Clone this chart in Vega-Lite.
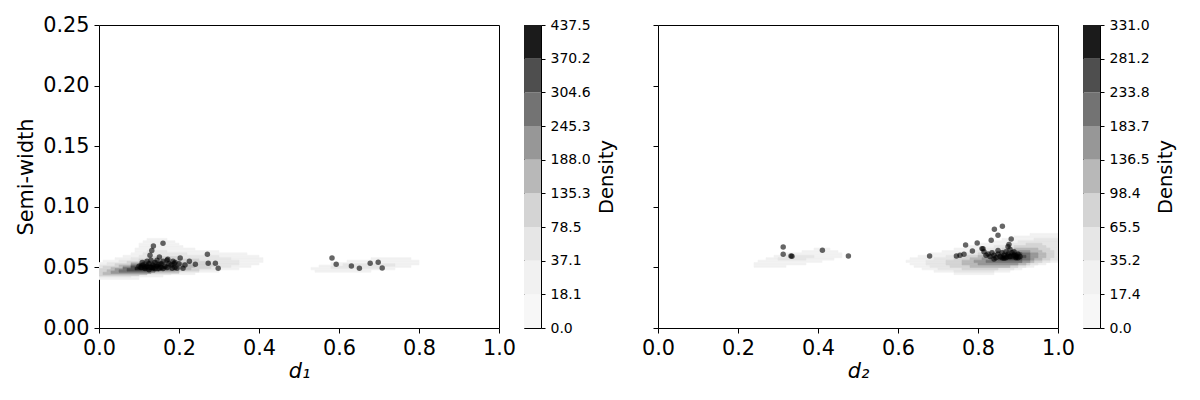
{
  "$schema": "https://vega.github.io/schema/vega-lite/v6.json",
  "padding": {"left": 15, "top": 13, "right": 5, "bottom": 5},
  "background": "white",
  "config": {
    "font": "DejaVu Sans",
    "view": {"stroke": "black", "strokeWidth": 1},
    "axis": {"grid": false, "domain": false, "tickColor": "black", "labelColor": "black", "titleColor": "black", "titleFontWeight": "normal", "tickSize": 5, "labelPadding": 5, "labelFlush": false, "labelOverlap": false}
  },
  "datasets": {
    "contours": [
      {"p":1,"l":1,"y":0.040,"y2":0.042,"x":0.00,"x2":0.10},
      {"p":1,"l":1,"y":0.042,"y2":0.044,"x":0.00,"x2":0.16},
      {"p":1,"l":1,"y":0.044,"y2":0.046,"x":0.00,"x2":0.24},
      {"p":1,"l":1,"y":0.046,"y2":0.048,"x":0.00,"x2":0.30},
      {"p":1,"l":1,"y":0.048,"y2":0.050,"x":0.00,"x2":0.35},
      {"p":1,"l":1,"y":0.050,"y2":0.052,"x":0.00,"x2":0.38},
      {"p":1,"l":1,"y":0.052,"y2":0.054,"x":0.00,"x2":0.40},
      {"p":1,"l":1,"y":0.054,"y2":0.056,"x":0.01,"x2":0.41},
      {"p":1,"l":1,"y":0.056,"y2":0.058,"x":0.04,"x2":0.41},
      {"p":1,"l":1,"y":0.058,"y2":0.060,"x":0.06,"x2":0.40},
      {"p":1,"l":1,"y":0.060,"y2":0.062,"x":0.08,"x2":0.37},
      {"p":1,"l":1,"y":0.062,"y2":0.064,"x":0.09,"x2":0.30},
      {"p":1,"l":1,"y":0.064,"y2":0.066,"x":0.09,"x2":0.24},
      {"p":1,"l":1,"y":0.066,"y2":0.068,"x":0.10,"x2":0.21},
      {"p":1,"l":1,"y":0.068,"y2":0.070,"x":0.10,"x2":0.20},
      {"p":1,"l":1,"y":0.070,"y2":0.072,"x":0.11,"x2":0.19},
      {"p":1,"l":1,"y":0.072,"y2":0.074,"x":0.12,"x2":0.17},
      {"p":1,"l":1,"y":0.046,"y2":0.048,"x":0.54,"x2":0.68},
      {"p":1,"l":1,"y":0.048,"y2":0.050,"x":0.53,"x2":0.74},
      {"p":1,"l":1,"y":0.050,"y2":0.052,"x":0.55,"x2":0.78},
      {"p":1,"l":1,"y":0.052,"y2":0.054,"x":0.58,"x2":0.80},
      {"p":1,"l":1,"y":0.054,"y2":0.056,"x":0.62,"x2":0.80},
      {"p":1,"l":1,"y":0.056,"y2":0.058,"x":0.68,"x2":0.78},
      {"p":1,"l":2,"y":0.042,"y2":0.044,"x":0.00,"x2":0.08},
      {"p":1,"l":2,"y":0.044,"y2":0.046,"x":0.00,"x2":0.18},
      {"p":1,"l":2,"y":0.046,"y2":0.048,"x":0.00,"x2":0.25},
      {"p":1,"l":2,"y":0.048,"y2":0.050,"x":0.00,"x2":0.30},
      {"p":1,"l":2,"y":0.050,"y2":0.052,"x":0.00,"x2":0.33},
      {"p":1,"l":2,"y":0.052,"y2":0.054,"x":0.02,"x2":0.35},
      {"p":1,"l":2,"y":0.054,"y2":0.056,"x":0.05,"x2":0.35},
      {"p":1,"l":2,"y":0.056,"y2":0.058,"x":0.08,"x2":0.33},
      {"p":1,"l":2,"y":0.058,"y2":0.060,"x":0.10,"x2":0.30},
      {"p":1,"l":2,"y":0.060,"y2":0.062,"x":0.11,"x2":0.22},
      {"p":1,"l":2,"y":0.062,"y2":0.064,"x":0.12,"x2":0.17},
      {"p":1,"l":2,"y":0.049,"y2":0.051,"x":0.58,"x2":0.70},
      {"p":1,"l":2,"y":0.051,"y2":0.053,"x":0.61,"x2":0.74},
      {"p":1,"l":3,"y":0.043,"y2":0.045,"x":0.00,"x2":0.10},
      {"p":1,"l":3,"y":0.045,"y2":0.047,"x":0.00,"x2":0.20},
      {"p":1,"l":3,"y":0.047,"y2":0.049,"x":0.00,"x2":0.25},
      {"p":1,"l":3,"y":0.049,"y2":0.051,"x":0.01,"x2":0.28},
      {"p":1,"l":3,"y":0.051,"y2":0.053,"x":0.04,"x2":0.29},
      {"p":1,"l":3,"y":0.053,"y2":0.055,"x":0.07,"x2":0.28},
      {"p":1,"l":3,"y":0.055,"y2":0.057,"x":0.10,"x2":0.25},
      {"p":1,"l":3,"y":0.057,"y2":0.059,"x":0.12,"x2":0.20},
      {"p":1,"l":4,"y":0.044,"y2":0.046,"x":0.01,"x2":0.12},
      {"p":1,"l":4,"y":0.046,"y2":0.048,"x":0.02,"x2":0.20},
      {"p":1,"l":4,"y":0.048,"y2":0.050,"x":0.03,"x2":0.23},
      {"p":1,"l":4,"y":0.050,"y2":0.052,"x":0.05,"x2":0.24},
      {"p":1,"l":4,"y":0.052,"y2":0.054,"x":0.08,"x2":0.23},
      {"p":1,"l":4,"y":0.054,"y2":0.056,"x":0.11,"x2":0.20},
      {"p":1,"l":5,"y":0.045,"y2":0.047,"x":0.03,"x2":0.13},
      {"p":1,"l":5,"y":0.047,"y2":0.049,"x":0.04,"x2":0.19},
      {"p":1,"l":5,"y":0.049,"y2":0.051,"x":0.06,"x2":0.21},
      {"p":1,"l":5,"y":0.051,"y2":0.053,"x":0.08,"x2":0.21},
      {"p":1,"l":5,"y":0.053,"y2":0.055,"x":0.11,"x2":0.18},
      {"p":1,"l":6,"y":0.046,"y2":0.048,"x":0.05,"x2":0.14},
      {"p":1,"l":6,"y":0.048,"y2":0.050,"x":0.06,"x2":0.18},
      {"p":1,"l":6,"y":0.050,"y2":0.052,"x":0.08,"x2":0.19},
      {"p":1,"l":6,"y":0.052,"y2":0.054,"x":0.11,"x2":0.17},
      {"p":1,"l":7,"y":0.047,"y2":0.049,"x":0.07,"x2":0.15},
      {"p":1,"l":7,"y":0.049,"y2":0.051,"x":0.08,"x2":0.17},
      {"p":1,"l":7,"y":0.051,"y2":0.053,"x":0.10,"x2":0.16},
      {"p":1,"l":8,"y":0.048,"y2":0.050,"x":0.09,"x2":0.14},
      {"p":1,"l":8,"y":0.050,"y2":0.052,"x":0.10,"x2":0.15},

      {"p":2,"l":1,"y":0.050,"y2":0.052,"x":0.24,"x2":0.32},
      {"p":2,"l":1,"y":0.052,"y2":0.054,"x":0.24,"x2":0.37},
      {"p":2,"l":1,"y":0.054,"y2":0.056,"x":0.25,"x2":0.41},
      {"p":2,"l":1,"y":0.056,"y2":0.058,"x":0.27,"x2":0.44},
      {"p":2,"l":1,"y":0.058,"y2":0.060,"x":0.29,"x2":0.46},
      {"p":2,"l":1,"y":0.060,"y2":0.062,"x":0.32,"x2":0.46},
      {"p":2,"l":1,"y":0.062,"y2":0.064,"x":0.36,"x2":0.45},
      {"p":2,"l":1,"y":0.064,"y2":0.066,"x":0.39,"x2":0.43},
      {"p":2,"l":1,"y":0.044,"y2":0.046,"x":0.74,"x2":0.84},
      {"p":2,"l":1,"y":0.046,"y2":0.048,"x":0.69,"x2":0.88},
      {"p":2,"l":1,"y":0.048,"y2":0.050,"x":0.66,"x2":0.91},
      {"p":2,"l":1,"y":0.050,"y2":0.052,"x":0.64,"x2":0.94},
      {"p":2,"l":1,"y":0.052,"y2":0.054,"x":0.63,"x2":0.97},
      {"p":2,"l":1,"y":0.054,"y2":0.056,"x":0.62,"x2":1.0},
      {"p":2,"l":1,"y":0.056,"y2":0.058,"x":0.63,"x2":1.0},
      {"p":2,"l":1,"y":0.058,"y2":0.060,"x":0.65,"x2":1.0},
      {"p":2,"l":1,"y":0.060,"y2":0.062,"x":0.68,"x2":1.0},
      {"p":2,"l":1,"y":0.062,"y2":0.064,"x":0.71,"x2":1.0},
      {"p":2,"l":1,"y":0.064,"y2":0.066,"x":0.74,"x2":1.0},
      {"p":2,"l":1,"y":0.066,"y2":0.068,"x":0.77,"x2":1.0},
      {"p":2,"l":1,"y":0.068,"y2":0.070,"x":0.80,"x2":1.0},
      {"p":2,"l":1,"y":0.070,"y2":0.072,"x":0.83,"x2":1.0},
      {"p":2,"l":1,"y":0.072,"y2":0.074,"x":0.86,"x2":1.0},
      {"p":2,"l":1,"y":0.074,"y2":0.076,"x":0.89,"x2":1.0},
      {"p":2,"l":1,"y":0.076,"y2":0.078,"x":0.93,"x2":1.0},
      {"p":2,"l":2,"y":0.056,"y2":0.058,"x":0.30,"x2":0.37},
      {"p":2,"l":2,"y":0.058,"y2":0.060,"x":0.32,"x2":0.39},
      {"p":2,"l":2,"y":0.046,"y2":0.048,"x":0.74,"x2":0.84},
      {"p":2,"l":2,"y":0.048,"y2":0.050,"x":0.70,"x2":0.89},
      {"p":2,"l":2,"y":0.050,"y2":0.052,"x":0.68,"x2":0.92},
      {"p":2,"l":2,"y":0.052,"y2":0.054,"x":0.67,"x2":0.95},
      {"p":2,"l":2,"y":0.054,"y2":0.056,"x":0.67,"x2":0.98},
      {"p":2,"l":2,"y":0.056,"y2":0.058,"x":0.69,"x2":1.0},
      {"p":2,"l":2,"y":0.058,"y2":0.060,"x":0.72,"x2":1.0},
      {"p":2,"l":2,"y":0.060,"y2":0.062,"x":0.75,"x2":1.0},
      {"p":2,"l":2,"y":0.062,"y2":0.064,"x":0.78,"x2":1.0},
      {"p":2,"l":2,"y":0.064,"y2":0.066,"x":0.81,"x2":1.0},
      {"p":2,"l":2,"y":0.066,"y2":0.068,"x":0.84,"x2":1.0},
      {"p":2,"l":2,"y":0.068,"y2":0.070,"x":0.87,"x2":1.0},
      {"p":2,"l":2,"y":0.070,"y2":0.072,"x":0.90,"x2":1.0},
      {"p":2,"l":2,"y":0.072,"y2":0.074,"x":0.94,"x2":1.0},
      {"p":2,"l":3,"y":0.048,"y2":0.050,"x":0.76,"x2":0.85},
      {"p":2,"l":3,"y":0.050,"y2":0.052,"x":0.73,"x2":0.90},
      {"p":2,"l":3,"y":0.052,"y2":0.054,"x":0.72,"x2":0.93},
      {"p":2,"l":3,"y":0.054,"y2":0.056,"x":0.72,"x2":0.96},
      {"p":2,"l":3,"y":0.056,"y2":0.058,"x":0.74,"x2":0.98},
      {"p":2,"l":3,"y":0.058,"y2":0.060,"x":0.77,"x2":0.99},
      {"p":2,"l":3,"y":0.060,"y2":0.062,"x":0.80,"x2":0.99},
      {"p":2,"l":3,"y":0.062,"y2":0.064,"x":0.83,"x2":0.99},
      {"p":2,"l":3,"y":0.064,"y2":0.066,"x":0.86,"x2":0.98},
      {"p":2,"l":3,"y":0.066,"y2":0.068,"x":0.89,"x2":0.97},
      {"p":2,"l":3,"y":0.068,"y2":0.070,"x":0.92,"x2":0.96},
      {"p":2,"l":4,"y":0.050,"y2":0.052,"x":0.78,"x2":0.88},
      {"p":2,"l":4,"y":0.052,"y2":0.054,"x":0.76,"x2":0.92},
      {"p":2,"l":4,"y":0.054,"y2":0.056,"x":0.76,"x2":0.94},
      {"p":2,"l":4,"y":0.056,"y2":0.058,"x":0.78,"x2":0.96},
      {"p":2,"l":4,"y":0.058,"y2":0.060,"x":0.80,"x2":0.97},
      {"p":2,"l":4,"y":0.060,"y2":0.062,"x":0.83,"x2":0.97},
      {"p":2,"l":4,"y":0.062,"y2":0.064,"x":0.86,"x2":0.96},
      {"p":2,"l":4,"y":0.064,"y2":0.066,"x":0.89,"x2":0.95},
      {"p":2,"l":5,"y":0.052,"y2":0.054,"x":0.80,"x2":0.90},
      {"p":2,"l":5,"y":0.054,"y2":0.056,"x":0.79,"x2":0.93},
      {"p":2,"l":5,"y":0.056,"y2":0.058,"x":0.81,"x2":0.94},
      {"p":2,"l":5,"y":0.058,"y2":0.060,"x":0.83,"x2":0.95},
      {"p":2,"l":5,"y":0.060,"y2":0.062,"x":0.86,"x2":0.95},
      {"p":2,"l":5,"y":0.062,"y2":0.064,"x":0.89,"x2":0.93},
      {"p":2,"l":6,"y":0.054,"y2":0.056,"x":0.82,"x2":0.91},
      {"p":2,"l":6,"y":0.056,"y2":0.058,"x":0.83,"x2":0.93},
      {"p":2,"l":6,"y":0.058,"y2":0.060,"x":0.85,"x2":0.93},
      {"p":2,"l":6,"y":0.060,"y2":0.062,"x":0.87,"x2":0.93},
      {"p":2,"l":7,"y":0.056,"y2":0.058,"x":0.85,"x2":0.91},
      {"p":2,"l":7,"y":0.058,"y2":0.060,"x":0.86,"x2":0.92},
      {"p":2,"l":7,"y":0.060,"y2":0.062,"x":0.88,"x2":0.91},
      {"p":2,"l":8,"y":0.057,"y2":0.059,"x":0.86,"x2":0.90},
      {"p":2,"l":8,"y":0.059,"y2":0.061,"x":0.87,"x2":0.90}
    ],
    "points": [
      {"p":1,"d":0.136,"w":0.0677},{"p":1,"d":0.160,"w":0.0700},{"p":1,"d":0.132,"w":0.0640},{"p":1,"d":0.1275,"w":0.0600},
      {"p":1,"d":0.151,"w":0.0586},{"p":1,"d":0.172,"w":0.0567},{"p":1,"d":0.203,"w":0.0578},{"p":1,"d":0.271,"w":0.0608},
      {"p":1,"d":0.226,"w":0.0550},{"p":1,"d":0.241,"w":0.0526},{"p":1,"d":0.273,"w":0.0534},{"p":1,"d":0.291,"w":0.0534},
      {"p":1,"d":0.298,"w":0.0493},{"p":1,"d":0.210,"w":0.0493},{"p":1,"d":0.195,"w":0.0493},{"p":1,"d":0.183,"w":0.0493},
      {"p":1,"d":0.188,"w":0.0530},
      {"p":1,"d":0.5825,"w":0.0578},{"p":1,"d":0.593,"w":0.0526},{"p":1,"d":0.631,"w":0.0512},{"p":1,"d":0.651,"w":0.0493},
      {"p":1,"d":0.678,"w":0.0534},{"p":1,"d":0.698,"w":0.0542},{"p":1,"d":0.708,"w":0.0495},
      {"p":1,"d":0.105,"w":0.050},{"p":1,"d":0.110,"w":0.052},{"p":1,"d":0.115,"w":0.049},{"p":1,"d":0.120,"w":0.051},
      {"p":1,"d":0.125,"w":0.053},{"p":1,"d":0.130,"w":0.050},{"p":1,"d":0.135,"w":0.052},{"p":1,"d":0.140,"w":0.054},
      {"p":1,"d":0.145,"w":0.051},{"p":1,"d":0.150,"w":0.049},{"p":1,"d":0.155,"w":0.053},{"p":1,"d":0.160,"w":0.055},
      {"p":1,"d":0.165,"w":0.051},{"p":1,"d":0.170,"w":0.050},{"p":1,"d":0.175,"w":0.053},{"p":1,"d":0.180,"w":0.052},
      {"p":1,"d":0.185,"w":0.055},{"p":1,"d":0.190,"w":0.050},{"p":1,"d":0.200,"w":0.053},{"p":1,"d":0.120,"w":0.055},
      {"p":1,"d":0.130,"w":0.056},{"p":1,"d":0.100,"w":0.051},{"p":1,"d":0.108,"w":0.054},{"p":1,"d":0.140,"w":0.049},
      {"p":1,"d":0.160,"w":0.049},{"p":1,"d":0.170,"w":0.056},{"p":1,"d":0.145,"w":0.056},{"p":1,"d":0.125,"w":0.048},
      {"p":1,"d":0.155,"w":0.050},{"p":1,"d":0.190,"w":0.054},{"p":1,"d":0.215,"w":0.052},{"p":1,"d":0.115,"w":0.0505},
      {"p":1,"d":0.135,"w":0.0495},{"p":1,"d":0.150,"w":0.0525},
      {"p":2,"d":0.313,"w":0.0668},{"p":2,"d":0.313,"w":0.0608},{"p":2,"d":0.3325,"w":0.0594},{"p":2,"d":0.335,"w":0.0592},
      {"p":2,"d":0.411,"w":0.0641},{"p":2,"d":0.476,"w":0.0594},
      {"p":2,"d":0.679,"w":0.0594},{"p":2,"d":0.746,"w":0.0594},{"p":2,"d":0.755,"w":0.0600},{"p":2,"d":0.765,"w":0.0608},
      {"p":2,"d":0.786,"w":0.0635},{"p":2,"d":0.769,"w":0.0685},{"p":2,"d":0.798,"w":0.0701},{"p":2,"d":0.8125,"w":0.0654},
      {"p":2,"d":0.833,"w":0.0724},{"p":2,"d":0.841,"w":0.0814},{"p":2,"d":0.861,"w":0.0839},{"p":2,"d":0.850,"w":0.0765},
      {"p":2,"d":0.883,"w":0.0734},{"p":2,"d":0.8775,"w":0.0690},
      {"p":2,"d":0.815,"w":0.063},{"p":2,"d":0.820,"w":0.060},{"p":2,"d":0.825,"w":0.061},{"p":2,"d":0.830,"w":0.059},
      {"p":2,"d":0.835,"w":0.062},{"p":2,"d":0.840,"w":0.060},{"p":2,"d":0.845,"w":0.058},{"p":2,"d":0.850,"w":0.061},
      {"p":2,"d":0.855,"w":0.059},{"p":2,"d":0.860,"w":0.062},{"p":2,"d":0.865,"w":0.060},{"p":2,"d":0.870,"w":0.058},
      {"p":2,"d":0.875,"w":0.061},{"p":2,"d":0.880,"w":0.059},{"p":2,"d":0.885,"w":0.062},{"p":2,"d":0.890,"w":0.060},
      {"p":2,"d":0.895,"w":0.058},{"p":2,"d":0.900,"w":0.061},{"p":2,"d":0.905,"w":0.059},{"p":2,"d":0.860,"w":0.058},
      {"p":2,"d":0.870,"w":0.063},{"p":2,"d":0.880,"w":0.065},{"p":2,"d":0.875,"w":0.067},{"p":2,"d":0.850,"w":0.064},
      {"p":2,"d":0.890,"w":0.063},{"p":2,"d":0.840,"w":0.057},{"p":2,"d":0.900,"w":0.058},{"p":2,"d":0.895,"w":0.0595},
      {"p":2,"d":0.810,"w":0.0655},{"p":2,"d":0.865,"w":0.0575}
    ],
    "cbar": [
      {"l":0,"i":0,"i2":1},{"l":1,"i":1,"i2":2},{"l":2,"i":2,"i2":3},{"l":3,"i":3,"i2":4},{"l":4,"i":4,"i2":5},
      {"l":5,"i":5,"i2":6},{"l":6,"i":6,"i2":7},{"l":7,"i":7,"i2":8},{"l":8,"i":8,"i2":9}
    ]
  },
  "resolve": {"scale": {"x": "independent", "y": "independent", "color": "shared", "stroke": "shared"}},
  "spacing": 25,
  "bounds": "flush",
  "hconcat": [
    {
      "width": 400, "height": 303,
      "view": {"stroke": "black", "fill": "white"},
      "layer": [
        {
          "data": {"name": "contours"},
          "transform": [{"filter": "datum.p == 1"}],
          "mark": {"type": "rect", "clip": true, "strokeWidth": 0.6},
          "encoding": {
            "x": {"field": "x", "type": "quantitative", "scale": {"domain": [0, 1], "nice": false},
                  "axis": {"values": [0, 0.2, 0.4, 0.6, 0.8, 1.0], "format": ".1f", "labelFontSize": 20.8, "title": "d₁", "titleFontSize": 20.8, "titleFontStyle": "italic", "titlePadding": 4}},
            "x2": {"field": "x2"},
            "y": {"field": "y", "type": "quantitative", "scale": {"domain": [0, 0.25], "nice": false},
                  "axis": {"values": [0, 0.05, 0.1, 0.15, 0.2, 0.25], "format": ".2f", "labelFontSize": 20.8, "title": "Semi-width", "titleFontSize": 20.8, "titlePadding": 6}},
            "y2": {"field": "y2"},
            "color": {"field": "l", "type": "ordinal", "scale": {"domain": [0,1,2,3,4,5,6,7,8], "range": ["#f7f7f7","#f1f1f1","#e6e6e6","#d4d4d4","#b8b8b8","#979797","#737373","#4e4e4e","#1b1b1b"]}, "legend": null},
            "stroke": {"field": "l", "type": "ordinal", "scale": {"domain": [0,1,2,3,4,5,6,7,8], "range": ["#f7f7f7","#f1f1f1","#e6e6e6","#d4d4d4","#b8b8b8","#979797","#737373","#4e4e4e","#1b1b1b"]}, "legend": null}
          }
        },
        {
          "data": {"name": "points"},
          "transform": [{"filter": "datum.p == 1"}],
          "mark": {"type": "circle", "size": 30, "color": "black", "opacity": 0.6},
          "encoding": {
            "x": {"field": "d", "type": "quantitative"},
            "y": {"field": "w", "type": "quantitative"}
          }
        }
      ]
    },
    {
      "width": 17, "height": 303,
      "view": {"stroke": "black"},
      "data": {"name": "cbar"},
      "mark": "rect",
      "encoding": {
        "y": {"field": "i", "type": "quantitative", "scale": {"domain": [0, 9], "nice": false},
              "axis": {"orient": "right", "values": [0,1,2,3,4,5,6,7,8,9], "labelExpr": "['0.0','18.1','37.1','78.5','135.3','188.0','245.3','304.6','370.2','437.5'][datum.value]", "labelFontSize": 14, "tickSize": 4, "labelPadding": 5, "title": "Density", "titleFontSize": 19.5, "titleAngle": 270, "titleBaseline": "top", "titlePadding": 7}},
        "y2": {"field": "i2"},
        "color": {"field": "l", "type": "ordinal", "legend": null}
      }
    },
    {
      "width": 67, "height": 303,
      "view": {"stroke": null},
      "data": {"values": []},
      "mark": "point",
      "encoding": {}
    },
    {
      "width": 400, "height": 303,
      "view": {"stroke": "black", "fill": "white"},
      "layer": [
        {
          "data": {"name": "contours"},
          "transform": [{"filter": "datum.p == 2"}],
          "mark": {"type": "rect", "clip": true, "strokeWidth": 0.6},
          "encoding": {
            "x": {"field": "x", "type": "quantitative", "scale": {"domain": [0, 1], "nice": false},
                  "axis": {"values": [0, 0.2, 0.4, 0.6, 0.8, 1.0], "format": ".1f", "labelFontSize": 20.8, "title": "d₂", "titleFontSize": 20.8, "titleFontStyle": "italic", "titlePadding": 4}},
            "x2": {"field": "x2"},
            "y": {"field": "y", "type": "quantitative", "scale": {"domain": [0, 0.25], "nice": false},
                  "axis": {"values": [0, 0.05, 0.1, 0.15, 0.2, 0.25], "labels": false, "title": null}},
            "y2": {"field": "y2"},
            "color": {"field": "l", "type": "ordinal", "legend": null},
            "stroke": {"field": "l", "type": "ordinal", "legend": null}
          }
        },
        {
          "data": {"name": "points"},
          "transform": [{"filter": "datum.p == 2"}],
          "mark": {"type": "circle", "size": 30, "color": "black", "opacity": 0.6},
          "encoding": {
            "x": {"field": "d", "type": "quantitative"},
            "y": {"field": "w", "type": "quantitative"}
          }
        }
      ]
    },
    {
      "width": 17, "height": 303,
      "view": {"stroke": "black"},
      "data": {"name": "cbar"},
      "mark": "rect",
      "encoding": {
        "y": {"field": "i", "type": "quantitative", "scale": {"domain": [0, 9], "nice": false},
              "axis": {"orient": "right", "values": [0,1,2,3,4,5,6,7,8,9], "labelExpr": "['0.0','17.4','35.2','65.5','98.4','136.5','183.7','233.8','281.2','331.0'][datum.value]", "labelFontSize": 14, "tickSize": 4, "labelPadding": 5, "title": "Density", "titleFontSize": 19.5, "titleAngle": 270, "titleBaseline": "top", "titlePadding": 7}},
        "y2": {"field": "i2"},
        "color": {"field": "l", "type": "ordinal", "legend": null}
      }
    }
  ]
}
